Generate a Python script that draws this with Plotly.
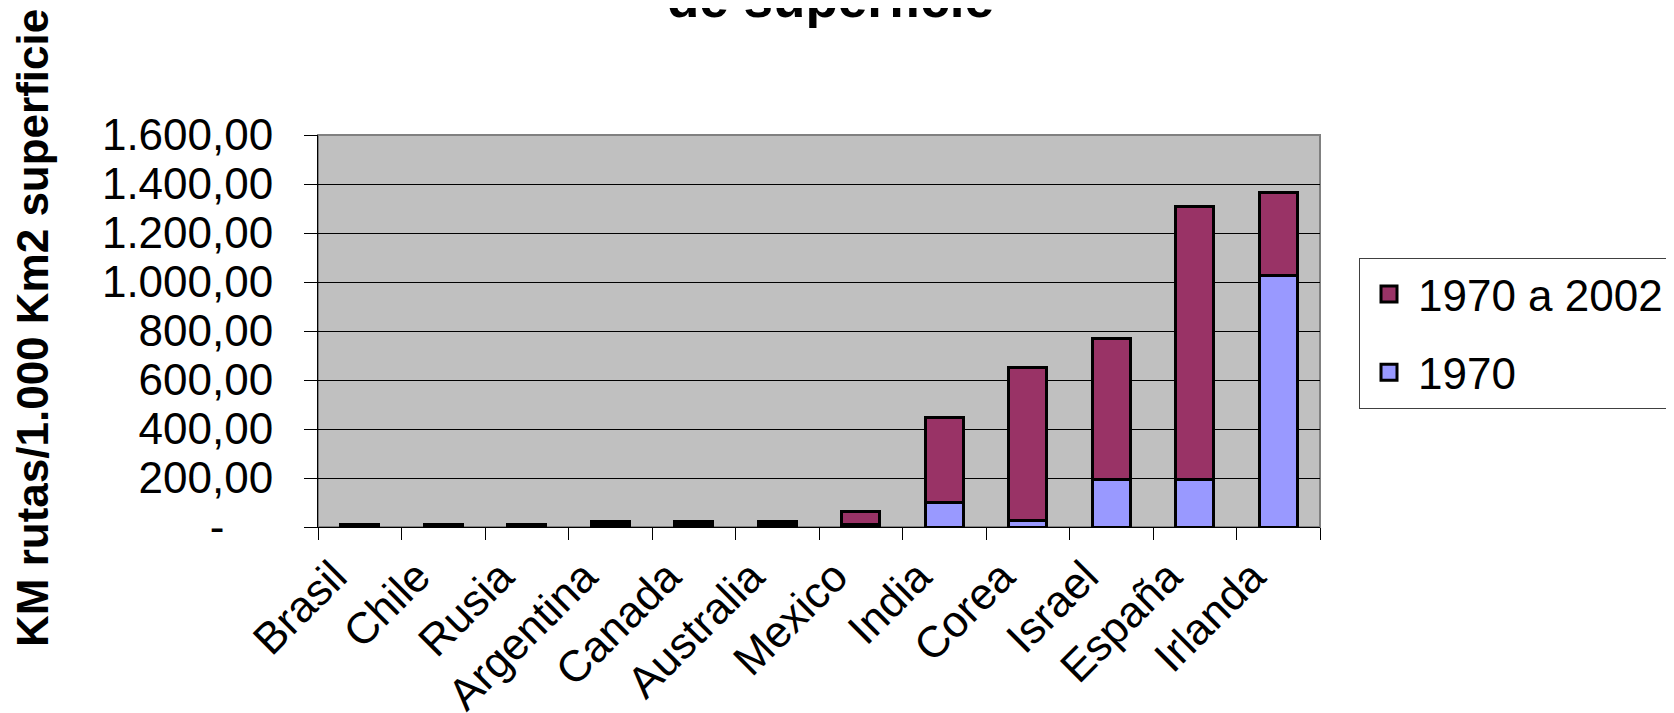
import plotly.graph_objects as go

countries = ["Brasil", "Chile", "Rusia", "Argentina", "Canada", "Australia",
             "Mexico", "India", "Corea", "Israel", "España", "Irlanda"]
v1970 = [6, 6, 6, 12, 12, 12, 10, 100, 25, 195, 195, 1025]
v1970_2002 = [6, 6, 6, 12, 12, 12, 54, 346, 626, 575, 1112, 339]
ytick_vals = [0, 200, 400, 600, 800, 1000, 1200, 1400, 1600]
ytick_text = ["-\u00a0\u00a0\u00a0\u00a0", "200,00", "400,00", "600,00", "800,00",
              "1.000,00", "1.200,00", "1.400,00", "1.600,00"]

PURPLE = "#993366"
BLUE = "#9999FF"

# page body has an 8px margin, so the figure is drawn 8px smaller
OFF = 8
W, H = 1674 - OFF, 713 - OFF
# target plot area in window pixels
PX0, PX1, PY0, PY1 = 318, 1320, 135, 527
L, T = PX0 - OFF, PY0 - OFF
R, B = 1674 - PX1, 713 - PY1
pw, ph = PX1 - PX0, PY1 - PY0

def px_x(x):
    return (x - PX0) / pw

def px_y(y):
    return (PY1 - y) / ph

fig = go.Figure()
fig.add_trace(go.Bar(x=countries, y=v1970, name="1970", showlegend=False,
                     marker=dict(color=BLUE, line=dict(color="black", width=3))))
fig.add_trace(go.Bar(x=countries, y=v1970_2002, name="1970 a 2002", showlegend=False,
                     marker=dict(color=PURPLE, line=dict(color="black", width=3))))
# legend entries
fig.add_trace(go.Scatter(x=[None], y=[None], mode="markers", name="1970 a 2002",
                         legendgroup="b",
                         marker=dict(symbol="square", size=16, color=PURPLE,
                                     line=dict(color="black", width=3))))
fig.add_trace(go.Scatter(x=[None], y=[None], mode="markers", name="1970",
                         legendgroup="a",
                         marker=dict(symbol="square", size=16, color=BLUE,
                                     line=dict(color="black", width=3))))

fig.update_layout(
    width=W, height=H,
    margin=dict(l=L, r=R, t=T, b=B, autoexpand=False),
    barmode="stack", bargap=0.55,
    paper_bgcolor="white", plot_bgcolor="#C0C0C0",
    font=dict(family="Liberation Sans, Arial, sans-serif", size=44, color="black"),
    showlegend=True,
    legend=dict(x=px_x(1359), y=px_y(258), xanchor="left", yanchor="top",
                bgcolor="white", bordercolor="#404040", borderwidth=1,
                traceorder="grouped", tracegroupgap=18, itemwidth=48,
                font=dict(size=44)),
    xaxis=dict(showgrid=False, showline=True, linecolor="black", linewidth=1,
               ticks="outside", tickson="boundaries", ticklen=12, tickcolor="black",
               tickangle=-45, tickfont=dict(size=44), ticklabelshift=-26,
               ticklabelstandoff=5, range=[-0.5, 11.5], fixedrange=True),
    yaxis=dict(range=[0, 1600], tickvals=ytick_vals, ticktext=ytick_text,
               showgrid=True, gridcolor="black", gridwidth=1,
               showline=True, linecolor="black", linewidth=1,
               ticks="outside", ticklen=13, tickcolor="black",
               tickfont=dict(size=44),
               ticklabelstandoff=22, zeroline=False),
    shapes=[dict(type="rect", xref="paper", yref="paper", x0=0, x1=1, y0=0, y1=1,
                 line=dict(color="#808080", width=2), layer="below")],
    annotations=[
        dict(text="<b>de superficie</b>", xref="paper", yref="paper",
             x=px_x(830), y=px_y(30), xanchor="center", yanchor="bottom",
             showarrow=False, font=dict(size=53)),
        dict(text="<b>KM rutas/1.000 Km2 superficie</b>", xref="paper", yref="paper",
             x=px_x(32), y=px_y(328), xanchor="center", yanchor="middle",
             textangle=-90, showarrow=False, font=dict(size=44)),
    ],
)

fig.write_html("out.html")
